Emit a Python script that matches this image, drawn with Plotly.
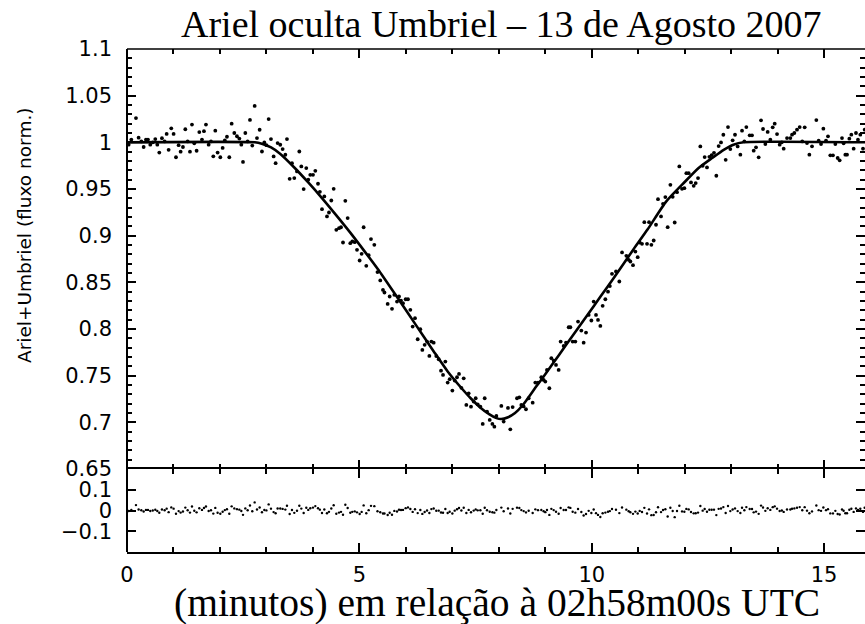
import numpy as np
import plotly.graph_objects as go

# light curve: time (minutes after 02h58m00s UTC) and normalised flux
t_min = [
    0.035, 0.093, 0.193, 0.250, 0.308, 0.358, 0.408, 0.451, 0.501, 0.555,
    0.609, 0.652, 0.695, 0.752, 0.810, 0.853, 0.896, 0.953, 1.003, 1.054,
    1.111, 1.154, 1.204, 1.255, 1.305, 1.355, 1.398, 1.448, 1.498, 1.556,
    1.613, 1.656, 1.699, 1.757, 1.807, 1.857, 1.900, 1.950, 2.008, 2.058,
    2.105, 2.151, 2.201, 2.252, 2.309, 2.366, 2.417, 2.460, 2.496, 2.546,
    2.596, 2.646, 2.696, 2.747,
    2.797, 2.854, 2.904, 2.955, 3.000, 3.048, 3.098, 3.155, 3.198, 3.241,
    3.298, 3.349, 3.407, 3.442, 3.500, 3.550, 3.600, 3.658, 3.708, 3.751,
    3.801, 3.858, 3.900, 3.944, 4.002, 4.052, 4.110, 4.150, 4.196, 4.246,
    4.303, 4.346, 4.396, 4.447, 4.504, 4.562, 4.605, 4.648, 4.698, 4.748,
    4.805, 4.848, 4.900, 4.949, 5.006, 5.049, 5.092, 5.149, 5.200, 5.250,
    5.322, 5.390, 5.450,
    5.508, 5.540, 5.609, 5.652, 5.702, 5.752, 5.810, 5.853, 5.896, 5.939,
    5.996, 6.046, 6.097, 6.147, 6.197, 6.255, 6.312, 6.355, 6.405, 6.456,
    6.506, 6.549, 6.599, 6.655, 6.707, 6.757, 6.800, 6.850, 6.900, 6.943,
    7.001, 7.051, 7.101, 7.144, 7.195, 7.245, 7.302, 7.352, 7.402, 7.460,
    7.503, 7.546, 7.604, 7.654, 7.697, 7.747, 7.805, 7.862, 7.905, 7.948,
    8.055, 8.105, 8.198, 8.248, 8.298, 8.392, 8.442, 8.485, 8.535, 8.585,
    8.643, 8.729, 8.786, 8.844, 8.915, 8.965, 9.001, 9.037, 9.088, 9.131,
    9.181, 9.231, 9.288, 9.331, 9.396, 9.446, 9.504, 9.540, 9.590, 9.647,
    9.705, 9.776, 9.826, 9.877, 9.934, 9.992, 10.042, 10.092, 10.135, 10.185,
    10.235, 10.293, 10.350, 10.390, 10.436, 10.522, 10.594,
    10.652, 10.745, 10.795, 10.831, 10.888, 10.939, 10.989, 11.032, 11.082, 11.132,
    11.190, 11.233, 11.283, 11.333, 11.383, 11.426, 11.491, 11.534, 11.584, 11.634,
    11.692, 11.742, 11.785, 11.835, 11.885, 11.943, 11.993, 12.036, 12.086, 12.136,
    12.194, 12.237, 12.287, 12.337, 12.387, 12.430, 12.480, 12.531, 12.581, 12.631,
    12.681, 12.731, 12.782, 12.832, 12.882, 12.932, 12.982, 13.032, 13.083, 13.140,
    13.198, 13.234, 13.284, 13.327, 13.399, 13.449, 13.485, 13.535, 13.592, 13.643,
    13.686, 13.736, 13.786, 13.843, 13.894, 13.937, 13.987, 14.044, 14.090, 14.130,
    14.202, 14.274, 14.310, 14.360, 14.417, 14.475, 14.530, 14.582, 14.632, 14.683,
    14.740, 14.833, 14.883, 14.934, 14.984, 15.041, 15.084, 15.134, 15.191, 15.242,
    15.292, 15.335, 15.385, 15.420, 15.457, 15.493, 15.543, 15.586, 15.636, 15.686,
    15.729, 15.779, 15.837, 15.873,
]

flux = [
    0.9975, 1.0030, 1.0260, 1.0050, 1.0010, 0.9950, 1.0030, 1.0030, 0.9975, 1.0000,
    1.0035, 0.9975, 0.9890, 1.0045, 1.0010, 1.0090, 0.9920, 1.0150, 1.0090, 0.9840,
    0.9970, 0.9900, 0.9950, 1.0140, 1.0010, 0.9900, 1.0190, 0.9990, 0.9910, 1.0110,
    1.0030, 1.0120, 1.0190, 0.9975, 1.0010, 0.9850, 1.0125, 0.9890, 0.9840, 0.9940,
    1.0020, 1.0060, 0.9840, 1.0200, 1.0100, 1.0065, 1.0040, 0.9975, 0.9790, 1.0100,
    1.0010, 1.0240, 0.9965, 1.0390,
    1.0046, 1.0135, 0.9902, 0.9999, 0.9970, 1.0249, 1.0035, 0.9849, 0.9777, 0.9992,
    0.9974, 0.9928, 0.9867, 1.0035, 0.9609, 0.9777, 0.9617, 0.9688, 0.9902, 0.9742,
    0.9499, 0.9724, 0.9600, 0.9652, 0.9652, 0.9695, 0.9556, 0.9470, 0.9284, 0.9420,
    0.9206, 0.9248, 0.9377, 0.9502, 0.9063, 0.9080, 0.9090, 0.8927, 0.9373, 0.9188,
    0.8920, 0.8938, 0.8930, 0.8848, 0.8734, 0.8805, 0.9090, 0.8677, 0.8790, 0.8963,
    0.8902, 0.8610, 0.8520,
    0.8419, 0.8391, 0.8269, 0.8348, 0.8216, 0.8366, 0.8294, 0.8348, 0.8305, 0.8276,
    0.8319, 0.8319, 0.8205, 0.8026, 0.8116, 0.7890, 0.7998, 0.7776, 0.7830, 0.7865,
    0.7712, 0.7865, 0.7854, 0.7710, 0.7676, 0.7554, 0.7508, 0.7651, 0.7426, 0.7462,
    0.7340, 0.7448, 0.7483, 0.7519, 0.7370, 0.7472, 0.7186, 0.7311, 0.7168, 0.7222,
    0.7258, 0.7193, 0.7168, 0.6983, 0.7258, 0.7115, 0.7026, 0.6983, 0.6954, 0.7068,
    0.7176, 0.7008, 0.7154, 0.6925, 0.7164, 0.7258, 0.7268, 0.7186, 0.7170, 0.7140,
    0.7258, 0.7211, 0.7426, 0.7426, 0.7483, 0.7454, 0.7437, 0.7562, 0.7365, 0.7687,
    0.7662, 0.7615, 0.7562, 0.7865, 0.7819, 0.7854, 0.8019, 0.8019, 0.7865, 0.7865,
    0.8080, 0.7983, 0.7854, 0.7962, 0.8151, 0.8091, 0.8294, 0.8151, 0.8097, 0.8033,
    0.8248, 0.8319, 0.8400, 0.8460, 0.8591, 0.8616, 0.8509,
    0.8820, 0.8784, 0.8741, 0.8723, 0.8684, 0.8830, 0.8770, 0.8927, 0.8913, 0.9145,
    0.8913, 0.9145, 0.8902, 0.8948, 0.9117, 0.9391, 0.9206, 0.9341, 0.9413, 0.9091,
    0.9545, 0.9416, 0.9141, 0.9466, 0.9742, 0.9502, 0.9509, 0.9670, 0.9670, 0.9570,
    0.9534, 0.9563, 0.9617, 0.9956, 0.9749, 0.9842, 0.9731, 0.9845, 0.9863, 0.9888,
    0.9642, 0.9960, 0.9999, 1.0081, 0.9813, 1.0163, 0.9928, 1.0021, 1.0081, 0.9956,
    0.9868, 1.0125, 1.0011, 1.0164, 1.0075, 1.0075, 0.9911, 0.9946, 0.9839, 1.0236,
    1.0143, 0.9982, 1.0111, 1.0029, 1.0161, 1.0200, 1.0089, 0.9975, 1.0000, 0.9932,
    1.0046, 1.0046, 1.0082, 1.0100, 1.0136, 1.0164, 1.0010, 1.0161, 0.9993, 0.9868,
    0.9957, 1.0239, 1.0018, 0.9982, 1.0146, 1.0018, 1.0064, 0.9861, 0.9861, 0.9982,
    0.9832, 0.9807, 1.0046, 0.9990, 0.9868, 0.9868, 1.0039, 1.0082, 0.9932, 1.0100,
    1.0029, 1.0082, 0.9932, 1.0136,
]

# fitted occultation model (knots of the solid curve)
fit_t = [0.0, 2.75, 2.9, 3.1, 3.3, 3.6, 3.9, 4.2, 4.5, 4.8, 5.1, 5.4, 5.8, 6.2, 6.6,
         6.9, 7.2, 7.4, 7.6, 7.8, 7.95, 8.05, 8.2, 8.35, 8.5, 8.65, 8.8, 9.0, 9.3,
         9.6, 9.9, 10.2, 10.5, 10.9, 11.2, 11.6, 12.0, 12.3, 12.6, 12.84, 13.05,
         13.27, 16.0]
fit_flux = [1.0, 1.0, 0.9985, 0.9945, 0.9875, 0.973, 0.957, 0.940, 0.922, 0.9035,
            0.884, 0.864, 0.835, 0.8055, 0.776, 0.7545, 0.7365, 0.7255, 0.716,
            0.7085, 0.7045, 0.7035, 0.7055, 0.710, 0.7175, 0.7275, 0.738, 0.7515,
            0.7725, 0.7935, 0.8145, 0.8355, 0.8565, 0.8855, 0.9065, 0.9365, 0.9575,
            0.9725, 0.9835, 0.992, 0.9975, 1.0, 1.0]

main_ticks = [0.65, 0.7, 0.75, 0.8, 0.85, 0.9, 0.95, 1.0, 1.05, 1.1]
main_ticktext = ['0.65', '0.7', '0.75', '0.8', '0.85', '0.9', '0.95', '1', '1.05', '1.1']
res_ticks = [-0.1, 0, 0.1]
res_ticktext = ['\u22120.1', '0', '0.1']

# residuals = data minus model
resid = np.array(flux) - np.interp(t_min, fit_t, fit_flux)

sans = 'DejaVu Sans, Liberation Sans, sans-serif'
serif = 'Liberation Serif, Times New Roman, serif'

fig = go.Figure()
fig.add_trace(go.Scatter(x=t_min, y=flux, mode='markers',
                         marker=dict(size=3.8, color='black'),
                         xaxis='x', yaxis='y', showlegend=False))
fig.add_trace(go.Scatter(x=fit_t, y=fit_flux, mode='lines',
                         line=dict(color='black', width=2.6, shape='spline', smoothing=0.6),
                         xaxis='x', yaxis='y', showlegend=False))
fig.add_trace(go.Scatter(x=t_min, y=resid, mode='markers',
                         marker=dict(size=2.4, color='black'),
                         xaxis='x2', yaxis='y2', showlegend=False))

# residual panel is 83 px of the 503 px plot height
split = 83 / 503
xcommon = dict(range=[0, 15.88], linecolor='black', linewidth=1.5,
               mirror='ticks', ticks='inside', ticklen=9, tickwidth=1.5, tickcolor='black',
               tick0=0, dtick=5, showgrid=False, zeroline=False,
               minor=dict(dtick=1, ticks='inside', ticklen=5, tickwidth=1.5, tickcolor='black'))
ycommon = dict(showline=False, mirror='ticks', ticks='inside', ticklen=9, tickwidth=1.5,
               tickcolor='black', showgrid=False, zeroline=False,
               tickfont=dict(family=sans, size=21, color='black'), ticklabelstandoff=14)

fig.update_layout(
    width=865, height=624,
    margin=dict(l=127, r=0, t=49, b=72),
    plot_bgcolor='white', paper_bgcolor='white',
    xaxis=dict(domain=[0, 1], anchor='y', showline=False, showticklabels=False, **xcommon),
    xaxis2=dict(domain=[0, 1], anchor='y2', matches='x', showline=True, showticklabels=True,
                tickfont=dict(family=sans, size=21, color='black'), ticklabelstandoff=3,
                **xcommon),
    yaxis=dict(domain=[split, 1], anchor='x', range=[0.65, 1.1],
               tickvals=main_ticks, ticktext=main_ticktext,
               minor=dict(tick0=0.65, dtick=0.01, ticks='inside', ticklen=5, tickwidth=1.5,
                          tickcolor='black'),
               **ycommon),
    yaxis2=dict(domain=[0, split], anchor='x2', range=[-0.2, 0.2],
                tickvals=res_ticks, ticktext=res_ticktext, **ycommon),
    shapes=[
        # left border and top border of the main panel
        dict(type='line', xref='paper', yref='paper', x0=0, x1=0, y0=0, y1=1,
             line=dict(color='black', width=2)),
        dict(type='line', xref='paper', yref='paper', x0=0, x1=1, y0=1, y1=1,
             line=dict(color='black', width=1.5)),
    ],
    annotations=[
        dict(text='Ariel oculta Umbriel \u2013 13 de Agosto 2007', xref='paper', yref='paper',
             x=0.5, y=1, xanchor='center', yanchor='bottom', yshift=2, xshift=5,
             showarrow=False, font=dict(family=serif, size=38, color='black')),
        dict(text='(minutos) em rela\u00e7\u00e3o \u00e0 02h58m00s UTC', xref='paper', yref='paper',
             x=0.5, y=0, xanchor='center', yanchor='middle', yshift=-51, xshift=1,
             showarrow=False, font=dict(family=serif, size=39.5, color='black')),
        dict(text='Ariel+Umbriel (fluxo norm.)', xref='paper', yref='paper',
             x=(25 - 127) / 738, y=(552 - 235) / 503, xanchor='center', yanchor='middle',
             textangle=-90, showarrow=False,
             font=dict(family=sans, size=18.5, color='black')),
    ],
)

# drop the page's default body margin so the figure sits at the window's corner
fig.write_html("out.html", config={'displayModeBar': False},
               post_script="document.body.style.margin='0px';")
